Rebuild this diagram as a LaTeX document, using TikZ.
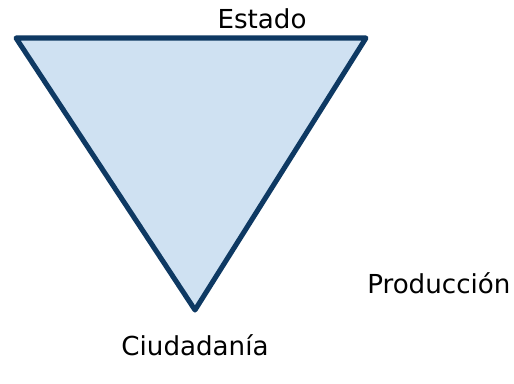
\documentclass[tikz,border=0pt]{standalone}
\usepackage{fontspec}
\setmainfont{DejaVu Sans}
\definecolor{trifill}{RGB}{207,225,242}
\definecolor{triline}{RGB}{14,57,99}

\begin{document}
\begin{tikzpicture}[
			x=0.75pt,
			y=-0.75pt,
			corner/.style={
				font=\fontsize{19.6}{23}\selectfont,
				inner sep=0pt,
				text=black
			},
			wedge/.style={
				draw=triline,
				fill=trifill,
				line width=3.8pt,
				line join=round
			}
			]
			\useasboundingbox (0,0) rectangle (514,383);
			% Vertices
			\coordinate (tl) at (16,38);
			\coordinate (tr) at (366,38);
			\coordinate (bt) at (195,310);
			
			% Triangle
			\draw[wedge] (tl) -- (tr) -- (bt) -- cycle;
			
			% Labels
			\node[corner, anchor=base] (estado) at (262,28) {Estado};
			\node[corner, anchor=base west] (produccion) at (367,293) {Producción};
			\node[corner, anchor=base] (ciudadania) at (195,355) {Ciudadanía};
		\end{tikzpicture}
\end{document}
